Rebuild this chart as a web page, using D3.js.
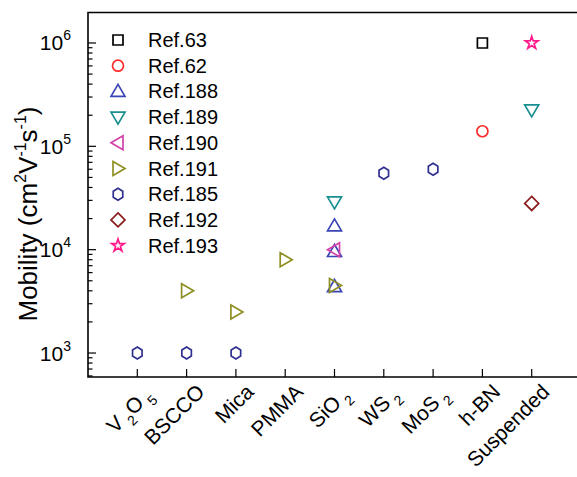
<!DOCTYPE html>
<html>
<head>
<meta charset="utf-8">
<script src="https://cdn.jsdelivr.net/npm/d3@7"></script>
<style>
  body { margin: 0; background: #fff; }
  text { font-family: Arial, "Liberation Sans", sans-serif; fill: #000; }
</style>
</head>
<body>
<div id="chart"></div>
<script>
// categories on the x axis (base text + subscript)
var categories = [
  ['V', '2', 'O', '5'], ['BSCCO'], ['Mica'], ['PMMA'], ['SiO', '2'],
  ['WS', '2'], ['MoS', '2'], ['h-BN'], ['Suspended']
]
var catNames = ['V2O5', 'BSCCO', 'Mica', 'PMMA', 'SiO2', 'WS2', 'MoS2', 'h-BN', 'Suspended']

// each series: [category, mobility]
var ref63 = [['h-BN', 1e6]]
var ref62 = [['h-BN', 1.4e5]]
var ref188 = [['SiO2', 1.7e4], ['SiO2', 9.6e3], ['SiO2', 4.4e3]]
var ref189 = [['SiO2', 2.9e4], ['Suspended', 2.25e5]]
var ref190 = [['SiO2', 1.0e4]]
var ref191 = [['BSCCO', 4.0e3], ['Mica', 2.5e3], ['PMMA', 8.0e3], ['SiO2', 4.5e3]]
var ref185 = [['V2O5', 1e3], ['BSCCO', 1e3], ['Mica', 1e3], ['WS2', 5.5e4], ['MoS2', 6.0e4]]
var ref192 = [['Suspended', 2.8e4]]
var ref193 = [['Suspended', 1e6]]

var yTicks = [1e3, 1e4, 1e5, 1e6]

var series = [
  { name: 'Ref.63',  data: ref63,  shape: 'square',  color: '#000000' },
  { name: 'Ref.62',  data: ref62,  shape: 'circle',  color: '#ff2a2a' },
  { name: 'Ref.188', data: ref188, shape: 'up',      color: '#3b46b4' },
  { name: 'Ref.189', data: ref189, shape: 'down',    color: '#1a8f8f' },
  { name: 'Ref.190', data: ref190, shape: 'left',    color: '#d442a8' },
  { name: 'Ref.191', data: ref191, shape: 'right',   color: '#8f8f24' },
  { name: 'Ref.185', data: ref185, shape: 'hex',     color: '#303090' },
  { name: 'Ref.192', data: ref192, shape: 'diamond', color: '#8b1c1c' },
  { name: 'Ref.193', data: ref193, shape: 'star',    color: '#ff1a8c' }
]

var W = 577, H = 477
var margin = {top: 12.5, left: 88, bottom: 100}
var plotW = 493
var plotH = H - margin.top - margin.bottom

var svg = d3.select('#chart').append('svg')
  .attr('width', W).attr('height', H)

var x = d3.scaleLinear().domain([0, 10]).range([margin.left, margin.left + plotW])
var y = d3.scaleLog().domain([Math.pow(10, 2.768), Math.pow(10, 6.295)])
  .range([margin.top + plotH, margin.top])

function xPos(cat) { return x(catNames.indexOf(cat) + 1) }

// frame (left, top, bottom)
var bottomY = margin.top + plotH
svg.append('path')
  .attr('d', 'M' + (margin.left + plotW) + ',' + margin.top + 'H' + margin.left + 'V' + bottomY + 'H' + (margin.left + plotW))
  .attr('fill', 'none').attr('stroke', '#000').attr('stroke-width', 1.6)

// y ticks, inward, with minor ticks
var minor = []
for (var e = 2; e <= 6; e++) {
  for (var m = 1; m <= 9; m++) {
    var v = m * Math.pow(10, e)
    if (v >= y.domain()[0] && v <= y.domain()[1]) minor.push(v)
  }
}
svg.selectAll('.ytick').data(minor).enter().append('line')
  .attr('x1', margin.left).attr('x2', function(d) { return margin.left + (yTicks.indexOf(d) >= 0 ? 8 : 4.5) })
  .attr('y1', function(d) { return y(d) }).attr('y2', function(d) { return y(d) })
  .attr('stroke', '#000').attr('stroke-width', 1.2)

var yl = svg.selectAll('.ylab').data(yTicks).enter().append('text')
  .attr('x', 71).attr('y', function(d) { return y(d) + 7.5 })
  .attr('text-anchor', 'end').style('font-size', '21px')
yl.append('tspan').text('10')
yl.append('tspan').attr('dy', -10).style('font-size', '14px')
  .text(function(d) { return Math.round(Math.log10(d)) })

// x ticks, inward
svg.selectAll('.xtick').data(catNames).enter().append('line')
  .attr('x1', function(d) { return xPos(d) }).attr('x2', function(d) { return xPos(d) })
  .attr('y1', bottomY).attr('y2', bottomY - 8)
  .attr('stroke', '#000').attr('stroke-width', 1.2)

// rotated x labels with subscripts
categories.forEach(function(parts, i) {
  var t = svg.append('text')
    .attr('transform', 'translate(' + (x(i + 1) + 8) + ',' + (bottomY + 5) + ') rotate(-45)')
    .attr('text-anchor', 'end').attr('dy', '0.75em')
    .style('font-size', '21px')
  parts.forEach(function(p, j) {
    if (j % 2 === 0) t.append('tspan').text(p).attr('dy', j === 0 ? null : -7)
    else t.append('tspan').text(p).attr('dy', 7).attr('dx', 4).style('font-size', '14px')
  })
  if (parts.length % 2 === 0) t.append('tspan').text('\u2009').attr('dy', -7)
})

// y axis title
var yt = svg.append('text')
  .attr('transform', 'translate(37,' + 214 + ') rotate(-90)')
  .attr('text-anchor', 'middle').style('font-size', '26px')
yt.append('tspan').text('Mobility (cm')
yt.append('tspan').text('2').attr('dy', -11).style('font-size', '16px')
yt.append('tspan').text('V').attr('dy', 11)
yt.append('tspan').text('-1').attr('dy', -11).style('font-size', '16px')
yt.append('tspan').text('s').attr('dy', 11)
yt.append('tspan').text('-1').attr('dy', -11).style('font-size', '16px')
yt.append('tspan').text(')').attr('dy', 11)

// marker shapes
function shapePath(shape) {
  switch (shape) {
    case 'square': return 'M-5,-5H5V5H-5Z'
    case 'circle': return d3.symbol(d3.symbolCircle, 95)()
    case 'up': return 'M0,-7L7,5H-7Z'
    case 'down': return 'M0,7L7,-5H-7Z'
    case 'left': return 'M-7,0L5,-7V7Z'
    case 'right': return 'M7,0L-5,-7V7Z'
    case 'hex':
      var pts = d3.range(6).map(function(k) {
        var a = Math.PI / 3 * k - Math.PI / 2
        return [5.5 * Math.cos(a), 6 * Math.sin(a)]
      })
      return 'M' + pts.join('L') + 'Z'
    case 'diamond': return 'M0,-7L7,0L0,7L-7,0Z'
    case 'star': return d3.symbol(d3.symbolStar, 50)()
  }
}

series.forEach(function(sr) {
  svg.selectAll(null).data(sr.data).enter().append('path')
    .attr('d', shapePath(sr.shape))
    .attr('transform', function(d) { return 'translate(' + xPos(d[0]) + ',' + y(d[1]) + ')' })
    .attr('fill', 'none').attr('stroke', sr.color).attr('stroke-width', 1.7)
})

// legend
var leg = svg.selectAll('.leg').data(series).enter().append('g')
  .attr('transform', function(d, i) { return 'translate(118,' + (40 + i * 25.7) + ')' })
leg.append('path')
  .attr('d', function(d) { return shapePath(d.shape) })
  .attr('fill', 'none').attr('stroke', function(d) { return d.color }).attr('stroke-width', 1.7)
leg.append('text').attr('x', 30).attr('y', 7)
  .style('font-size', '20px').text(function(d) { return d.name })
</script>
</body>
</html>
